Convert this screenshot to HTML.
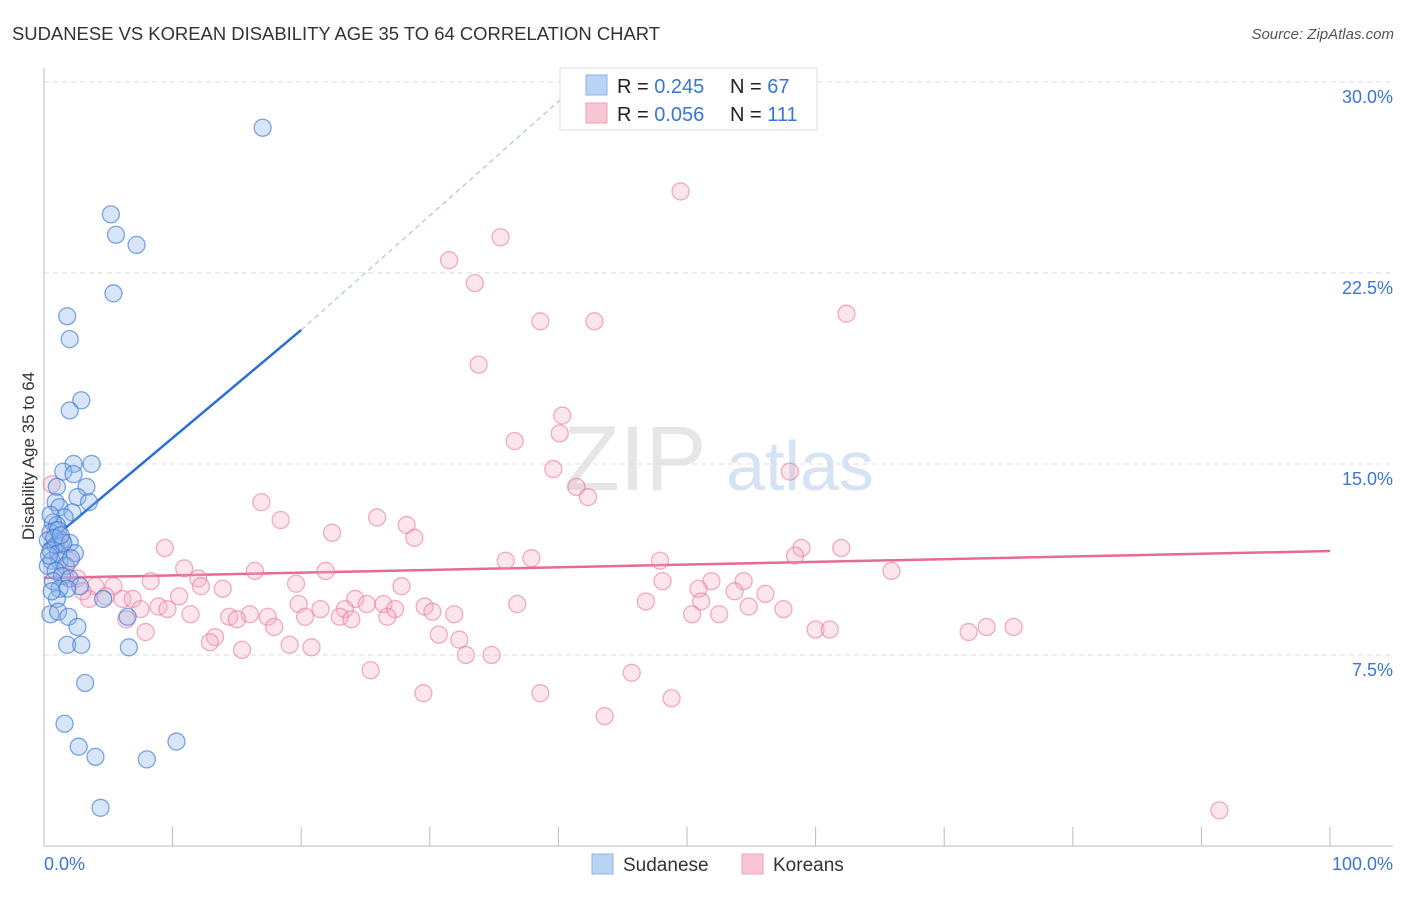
<!DOCTYPE html>
<html><head><meta charset="utf-8"><style>
body{margin:0;background:#fff;font-family:"Liberation Sans",sans-serif}
svg text{font-family:"Liberation Sans",sans-serif}
</style></head><body>
<svg id="chart" width="1406" height="892" viewBox="0 0 1406 892">
<text x="12" y="40" font-size="18" fill="#333" textLength="648" lengthAdjust="spacingAndGlyphs">SUDANESE VS KOREAN DISABILITY AGE 35 TO 64 CORRELATION CHART</text>
<text x="1394" y="39" font-size="15" fill="#555" font-style="italic" text-anchor="end">Source: ZipAtlas.com</text>
<text x="34" y="456" font-size="17" fill="#333" text-anchor="middle" transform="rotate(-90 34 456)">Disability Age 35 to 64</text>
<g>
<text x="635" y="490" font-size="92" fill="#e6e6e6" font-family="Liberation Serif" text-anchor="middle">ZIP</text>
<text x="800" y="490" font-size="70" fill="#d5e3f3" text-anchor="middle">atlas</text>
</g>
<g id="grid"></g><g id="axes"></g><g id="lines"></g><g id="pts"></g>
<g>
<rect x="560" y="68" width="257" height="62" fill="#fff" stroke="#ddd"/>
<rect x="586" y="75" width="21" height="20" fill="#b9d3f5" stroke="#8fb3e3"/>
<rect x="586" y="103" width="21" height="20" fill="#f9c6d4" stroke="#f0a0b8"/>
<text x="617" y="93" font-size="20" fill="#222">R = <tspan fill="#3a75d0">0.245</tspan><tspan x="730">N = </tspan><tspan fill="#3a75d0">67</tspan></text>
<text x="617" y="121" font-size="20" fill="#222">R = <tspan fill="#3a75d0">0.056</tspan><tspan x="730">N = </tspan><tspan fill="#3a75d0">111</tspan></text>
</g>
<g>
<rect x="592" y="854" width="21" height="20" fill="#b9d3f5" stroke="#8fb3e3"/>
<text x="623" y="871" font-size="19" fill="#333">Sudanese</text>
<rect x="742" y="854" width="21" height="20" fill="#f9c6d4" stroke="#f0a0b8"/>
<text x="773" y="871" font-size="19" fill="#333">Koreans</text>
</g>
</svg>
<script>
const yTicks=[7.5,15,22.5,30];
const yTickLabels=["7.5%","15.0%","22.5%","30.0%"];
const xTicks=[0,10,20,30,40,50,60,70,80,90,100];
const blueX=[17.0,5.2,5.6,7.2,5.4,1.8,2.0,2.9,2.0,3.7,2.3,1.5,2.3,1.0,3.3,2.6,3.5,0.9,1.2,2.2,1.6,0.7,1.0,0.5,1.4,0.3,0.9,2.0,0.5,1.1,2.4,0.6,1.2,0.3,1.7,0.9,1.4,0.7,2.0,2.8,1.2,1.8,1.0,4.6,0.5,1.1,1.9,6.5,2.6,1.8,2.9,6.6,3.2,1.6,2.7,4.0,8.0,10.3,4.4,0.5,1.1,0.6,1.5,0.8,2.1,0.4,1.3];
const blueY=[28.2,24.8,24.0,23.6,21.7,20.8,19.9,17.5,17.1,15.0,15.0,14.7,14.6,14.1,14.1,13.7,13.5,13.5,13.3,13.1,12.9,12.7,12.6,12.3,12.0,12.0,11.8,11.9,11.6,11.5,11.5,11.2,11.2,11.0,11.0,10.8,10.6,10.4,10.5,10.2,10.1,10.1,9.7,9.7,9.1,9.2,9.0,9.0,8.6,7.9,7.9,7.8,6.4,4.8,3.9,3.5,3.4,4.1,1.5,13.0,12.4,10.0,11.9,12.1,11.3,11.4,12.2];
const pinkX=[49.5,35.5,31.5,33.5,38.6,42.8,62.4,33.8,40.3,40.1,36.6,39.6,58.0,41.4,42.3,16.9,18.4,25.9,28.2,22.4,28.8,9.4,37.9,35.9,47.9,58.9,62.0,58.4,10.9,65.9,16.4,21.9,12.0,8.3,19.6,27.8,48.1,51.9,54.4,12.2,5.4,4.0,13.9,50.9,53.7,56.1,10.5,3.5,4.8,6.1,6.9,8.9,19.8,24.2,26.4,29.6,36.8,46.8,51.1,9.6,21.5,23.4,25.1,27.3,7.5,11.4,14.4,16.0,15.0,17.4,20.3,23.0,23.9,26.7,30.2,31.9,50.4,52.5,54.8,57.5,6.4,17.9,7.9,60.0,61.1,71.9,73.3,75.4,30.7,32.3,13.3,12.9,19.1,20.8,15.4,32.8,34.8,25.4,45.7,29.5,38.6,48.8,43.6,91.4,0.6,1.2,2.0,0.9,2.6,1.6,3.0];
const pinkY=[25.7,23.9,23.0,22.1,20.6,20.6,20.9,18.9,16.9,16.2,15.9,14.8,14.7,14.1,13.7,13.5,12.8,12.9,12.6,12.3,12.1,11.7,11.3,11.2,11.2,11.7,11.7,11.4,10.9,10.8,10.8,10.8,10.5,10.4,10.3,10.2,10.4,10.4,10.4,10.2,10.2,10.2,10.1,10.1,10.0,9.9,9.8,9.7,9.8,9.7,9.7,9.4,9.5,9.7,9.5,9.4,9.5,9.6,9.6,9.3,9.3,9.3,9.5,9.3,9.3,9.1,9.0,9.1,8.9,9.0,9.0,9.0,8.9,9.0,9.2,9.1,9.1,9.1,9.4,9.3,8.9,8.6,8.4,8.5,8.5,8.4,8.6,8.6,8.3,8.1,8.2,8.0,7.9,7.8,7.7,7.5,7.5,6.9,6.8,6.0,6.0,5.8,5.1,1.4,14.2,11.8,11.2,12.4,10.5,10.6,10.0];
const blueLine=[11.78,20.26];   // at x=0 and x=20
const blueDashEnd=[41.7,30.0];
const pinkLine=[10.52,11.58];   // at x=0 and x=100
const NS="http://www.w3.org/2000/svg";
const X0=44,X1=1330,Y0=846,PY=25.47;
const sx=v=>X0+(X1-X0)*v/100, sy=v=>Y0-v*PY;
function mk(tag,attrs,parent){const e=document.createElementNS(NS,tag);for(const k in attrs)e.setAttribute(k,attrs[k]);parent.appendChild(e);return e;}
const grid=document.getElementById('grid'),axes=document.getElementById('axes'),lines=document.getElementById('lines'),pts=document.getElementById('pts');
yTicks.forEach((t,i)=>{
 const l=mk('line',{x1:X0,x2:1393,y1:sy(t),y2:sy(t),stroke:'#ddd','stroke-dasharray':'5,4'},grid);
 
 
 const tx=mk('text',{x:1393,y:sy(t)+21,'font-size':18,fill:'#3a75d0','text-anchor':'end'},grid);
 tx.textContent=yTickLabels[i];
 
 
});
const ax=mk('line',{x1:X0,x2:X0,y1:68,y2:Y0,stroke:'#bbb'},axes);


const bx=mk('line',{x1:X0,x2:1393,y1:Y0,y2:Y0,stroke:'#bbb'},axes);


xTicks.forEach(t=>{const l=mk('line',{x1:sx(t),x2:sx(t),y1:827,y2:Y0,stroke:'#bbb'},axes);
 
 });
const xl=mk('text',{x:44,y:870,'font-size':18,fill:'#3a75d0'},axes);xl.textContent='0.0%';


const xr=mk('text',{x:1393,y:870,'font-size':18,fill:'#3a75d0','text-anchor':'end'},axes);xr.textContent='100.0%';


function dots(xs,ys,fill,stroke,name){xs.forEach((x,i)=>{const c=mk('circle',{cx:sx(x),cy:sy(ys[i]),r:8.5,fill:fill,stroke:stroke,'stroke-width':1.3},pts);
 
 });}
dots(pinkX,pinkY,'rgba(246,170,195,0.3)','rgba(232,120,155,0.6)','korean-point');
dots(blueX,blueY,'rgba(140,180,235,0.35)','rgba(60,120,210,0.65)','sudanese-point');
const bl=mk('line',{x1:sx(0),y1:sy(blueLine[0]),x2:sx(20),y2:sy(blueLine[1]),stroke:'#2a6fd6','stroke-width':2.5},lines);


const bd=mk('line',{x1:sx(20),y1:sy(blueLine[1]),x2:sx(blueDashEnd[0]),y2:sy(blueDashEnd[1]),stroke:'#a9c4ea','stroke-width':1.2,'stroke-dasharray':'5,4'},lines);


const pl=mk('line',{x1:sx(0),y1:sy(pinkLine[0]),x2:sx(100),y2:sy(pinkLine[1]),stroke:'#e56b94','stroke-width':2.5},lines);


</script>
</body></html>
